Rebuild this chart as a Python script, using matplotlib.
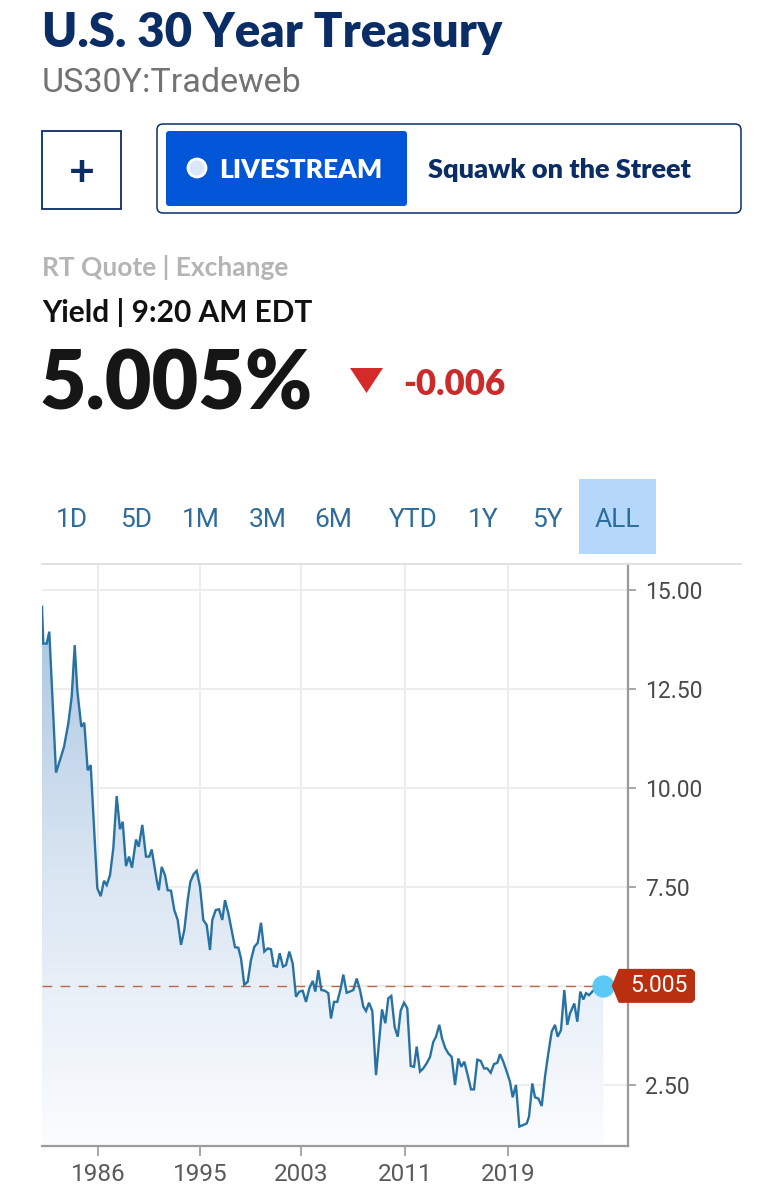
import matplotlib.pyplot as plt
import numpy as np
from matplotlib.patches import FancyBboxPatch, Circle, Polygon
from matplotlib.colors import LinearSegmentedColormap
from matplotlib.transforms import IdentityTransform

# position along the chart (observation axis) and yield in percent
obs = [0, 1.3, 4.7, 7.3, 14, 18, 22, 26.3, 29.7, 32.7, 35.3, 39.3, 42.3, 45.7, 48.7,
       55.3, 58.7, 62, 64.7, 68, 71.3, 74.7, 78, 80.7, 84, 87, 90, 94, 96.7, 100.3,
       104, 107.3, 109.7, 114.7, 116.8, 119.7, 123, 125.7, 129, 132.3, 135.7, 139,
       142.3, 145.7, 148.3, 151.7, 154.7, 158, 161.3, 164.7, 168, 170.3, 173.7, 177,
       180.3, 183, 186.3, 189.7, 193, 196.3, 199, 202.3, 205.7, 209, 212.3, 215.7,
       219, 222.3, 225.7, 229, 231.7, 235, 237.7, 241, 244, 247.3, 250.7, 254, 257.3,
       260.7, 264, 267.3, 270.7, 273.3, 276.3, 279.3, 283, 286.3, 289, 292, 295.3,
       298.7, 301.3, 304.7, 308.7, 311.3, 314.7, 318, 321.3, 324, 327, 330.3, 334,
       337.3, 340, 343.3, 346.3, 349.3, 352.7, 355.7, 358.7, 362, 365.3, 368.7, 372,
       374.7, 378, 381.3, 384.7, 388, 391.3, 394, 397.3, 400, 403.3, 406.3, 409.7,
       413, 416.3, 419.3, 422.3, 425.7, 429, 432, 435.3, 438.7, 442, 445.3, 448.7,
       452, 455.3, 458, 461.3, 464.7, 468, 470.7, 474, 477.3, 481.3, 484.7, 487,
       490.3, 493, 496.3, 499.7, 503, 506.3, 509.7, 513, 515.7, 519, 522.3, 525.3,
       528, 532.3, 535.3, 538.3, 541.3, 544, 547, 550.3, 553.7, 556.3, 561.3]
yld = [14.58, 13.65, 13.65, 13.95, 10.39, 10.71, 11.04, 11.63, 12.31, 13.61, 12.47,
       11.55, 11.65, 10.45, 10.58, 7.47, 7.27, 7.66, 7.55, 7.80, 8.48, 9.80, 8.96,
       9.15, 8.03, 8.27, 7.99, 8.70, 8.52, 9.07, 8.27, 8.27, 8.45, 7.68, 7.42, 8.01,
       7.80, 7.42, 7.41, 6.92, 6.67, 6.04, 6.41, 7.17, 7.63, 7.83, 7.91, 7.51, 6.67,
       6.54, 5.91, 6.67, 6.92, 6.94, 6.67, 7.17, 6.84, 6.41, 5.98, 5.97, 5.70, 5.03,
       5.11, 5.66, 5.99, 6.09, 6.60, 5.87, 5.95, 5.93, 5.51, 5.49, 5.83, 5.49, 5.53,
       5.87, 5.57, 4.73, 4.86, 4.88, 4.60, 4.94, 5.13, 4.86, 5.40, 4.90, 4.88, 4.82,
       4.18, 4.60, 4.60, 4.94, 5.29, 4.83, 4.87, 4.90, 5.19, 4.90, 4.48, 4.37, 4.58,
       4.37, 2.75, 3.68, 4.41, 4.06, 4.69, 4.75, 3.96, 3.72, 4.38, 4.58, 4.44, 2.98,
       2.96, 3.47, 2.84, 2.92, 3.05, 3.21, 3.59, 3.72, 4.02, 3.68, 3.43, 3.30, 3.21,
       2.50, 3.17, 2.96, 3.09, 2.75, 2.39, 2.39, 3.14, 3.11, 2.92, 2.92, 2.81, 3.03,
       3.06, 3.28, 3.09, 2.84, 2.58, 2.19, 2.50, 1.45, 1.49, 1.53, 1.70, 2.54, 2.19,
       2.16, 1.97, 2.71, 3.30, 3.85, 4.02, 3.72, 3.89, 4.90, 4.02, 4.31, 4.56, 4.10,
       4.86, 4.66, 4.82, 4.77, 4.86, 4.94, 5.00, 5.005]

year_ticks = [56, 158, 259, 363, 466]
year_labels = ["1986", "1995", "2003", "2011", "2019"]
yield_ticks = [2.5, 5.0, 7.5, 10.0, 12.5, 15.0]
ranges = ["1D", "5D", "1M", "3M", "6M", "YTD", "1Y", "5Y", "ALL"]
last_value = 5.005
change = -0.006

W, H = 762, 1200
NAVY = "#0a2d66"
LINE = "#2872a3"
HEAD = ["Lato", "DejaVu Sans"]
NARROW = ["Roboto", "DejaVu Sans"]

fig = plt.figure(figsize=(W / 100, H / 100), dpi=100)
fig.patch.set_facecolor("white")


def fx(x):
    return x / W


def fy(y):
    return 1 - y / H


def box(x0, y0, x1, y1, **kw):
    # pixel box (top-left origin) drawn in display coordinates
    p = FancyBboxPatch((x0, H - y1), x1 - x0, y1 - y0, transform=IdentityTransform(), **kw)
    fig.add_artist(p)
    return p


# ---- header ----
fig.text(fx(42), fy(47), "U.S. 30 Year Treasury", family=HEAD, weight="heavy",
         size=34, color=NAVY, va="baseline")
fig.text(fx(42), fy(92), "US30Y:Tradeweb", family=NARROW, size=24.5, color="#727272",
         va="baseline")

box(42, 131, 121, 209, boxstyle="square,pad=0", fc="white", ec=NAVY, lw=1.3)
fig.text(fx(81.5), fy(170), "+", family=HEAD, weight="bold", size=32, color=NAVY,
         ha="center", va="center_baseline")
box(157, 124, 741, 213, boxstyle="round,pad=0,rounding_size=6", fc="white", ec=NAVY, lw=1.1)
box(166, 131, 407, 206, boxstyle="round,pad=0,rounding_size=3", fc="#0056d6", ec="none")
fig.add_artist(Circle((197, H - 168), 9, transform=IdentityTransform(), fc="#dbe7fb",
                      ec="white", lw=2))
fig.text(fx(219), fy(178), "LIVESTREAM", family=HEAD, weight="heavy", size=19,
         color="white", va="baseline")
fig.text(fx(428), fy(178), "Squawk on the Street", family=HEAD, weight="heavy", size=19.5,
         color=NAVY, va="baseline")

fig.text(fx(42), fy(276), "RT Quote | Exchange", family=HEAD, weight="bold", size=19,
         color="#b4b4b4", va="baseline")
fig.text(fx(42), fy(322), "Yield | 9:20 AM EDT", family=HEAD, weight="bold", size=21.5,
         color="#111111", va="baseline")
fig.text(fx(40), fy(410), f"{last_value:.3f}%", family=HEAD, weight="heavy", size=58,
         color="#161616", va="baseline")
fig.add_artist(Polygon([(350, H - 368), (383, H - 368), (366.5, H - 393)],
                       transform=IdentityTransform(), fc="#d42a2a", ec="none"))
fig.text(fx(403), fy(395), f"{change:.3f}", family=HEAD, weight="heavy", size=25,
         color="#cc2b2b", va="baseline")

# ---- range selector ----
range_x = [72, 136, 201, 268, 333, 413, 483, 547, 617]
box(579, 479, 656, 554, boxstyle="square,pad=0", fc="#b5d8fa", ec="none")
for lab, x in zip(ranges, range_x):
    fig.text(fx(x), fy(527), lab, family=NARROW, size=19, color="#2d6c9c", ha="center",
             va="baseline")

# ---- chart ----
ax = fig.add_axes([fx(42), fy(1146), fx(628) - fx(42), fy(564) - fy(1146)])
ymin, ymax = 0.96, 15.66

fill = ax.fill_between(obs, yld, ymin, color="none", lw=0)
grad = np.linspace(1, 0, 256).reshape(-1, 1)
cmap = LinearSegmentedColormap.from_list("fade", ["#fbfcfe", "#dae6f2", "#abc5e1"])
im = ax.imshow(grad, extent=[obs[0], obs[-1], ymin, max(yld)], aspect="auto", cmap=cmap,
               origin="upper", zorder=1, interpolation="bilinear")
im.set_clip_path(fill.get_paths()[0], transform=ax.transData)
ax.plot(obs, yld, color=LINE, lw=1.7, zorder=3, solid_joinstyle="miter")
ax.plot([obs[0], obs[-1]], [last_value, last_value], color="#c0654a", lw=1.0,
        dashes=(7, 6), zorder=2)
ax.plot(obs[-1], last_value, "o", ms=15, color="#5bc8f5", zorder=4, clip_on=False)
ax.set_xlim(0, 586)
ax.set_ylim(ymin, ymax)

ax.set_xticks(year_ticks, year_labels)
# the 5.00 label sits under the price tag, so it is left blank
ax.set_yticks(yield_ticks, ["" if v == 5.0 else f"{v:.2f}" for v in yield_ticks])
ax.yaxis.tick_right()
ax.grid(True, color="#ececec", lw=1.3, zorder=0)
ax.set_axisbelow(True)
for s in ["left", "top"]:
    ax.spines[s].set_visible(False)
for s in ["right", "bottom"]:
    ax.spines[s].set_color("#9a9a9a")
    ax.spines[s].set_linewidth(1.6)
ax.tick_params(axis="x", length=7, width=1.2, color="#9a9a9a", pad=5, labelsize=17.5,
               labelcolor="#5a5a5a")
ax.tick_params(axis="y", length=6, width=1.2, color="#9a9a9a", pad=6, labelsize=16.5,
               labelcolor="#4a4a4a")
for lab in ax.get_xticklabels() + ax.get_yticklabels():
    lab.set_family(NARROW)

# top border across the chart panel
fig.add_artist(plt.Line2D([42, 741], [H - 564, H - 564], transform=IdentityTransform(),
                          color="#dedede", lw=1.3))

# price tag on the right axis
fig.canvas.draw()
px, py = ax.transData.transform((obs[-1], last_value))
tip = 611.7
tag = [(tip, py), (tip + 7, py + 17), (692, py + 17), (695, py + 14), (695, py - 14),
       (692, py - 17), (tip + 7, py - 17)]
fig.add_artist(Polygon(tag, transform=IdentityTransform(), fc="#b8300f", ec="none",
                       zorder=10))
fig.text(fx(659), py / H, f"{last_value:.3f}", family=NARROW, size=16.5, color="white",
         ha="center", va="center", zorder=11)

fig.savefig("out.png", dpi=100)
